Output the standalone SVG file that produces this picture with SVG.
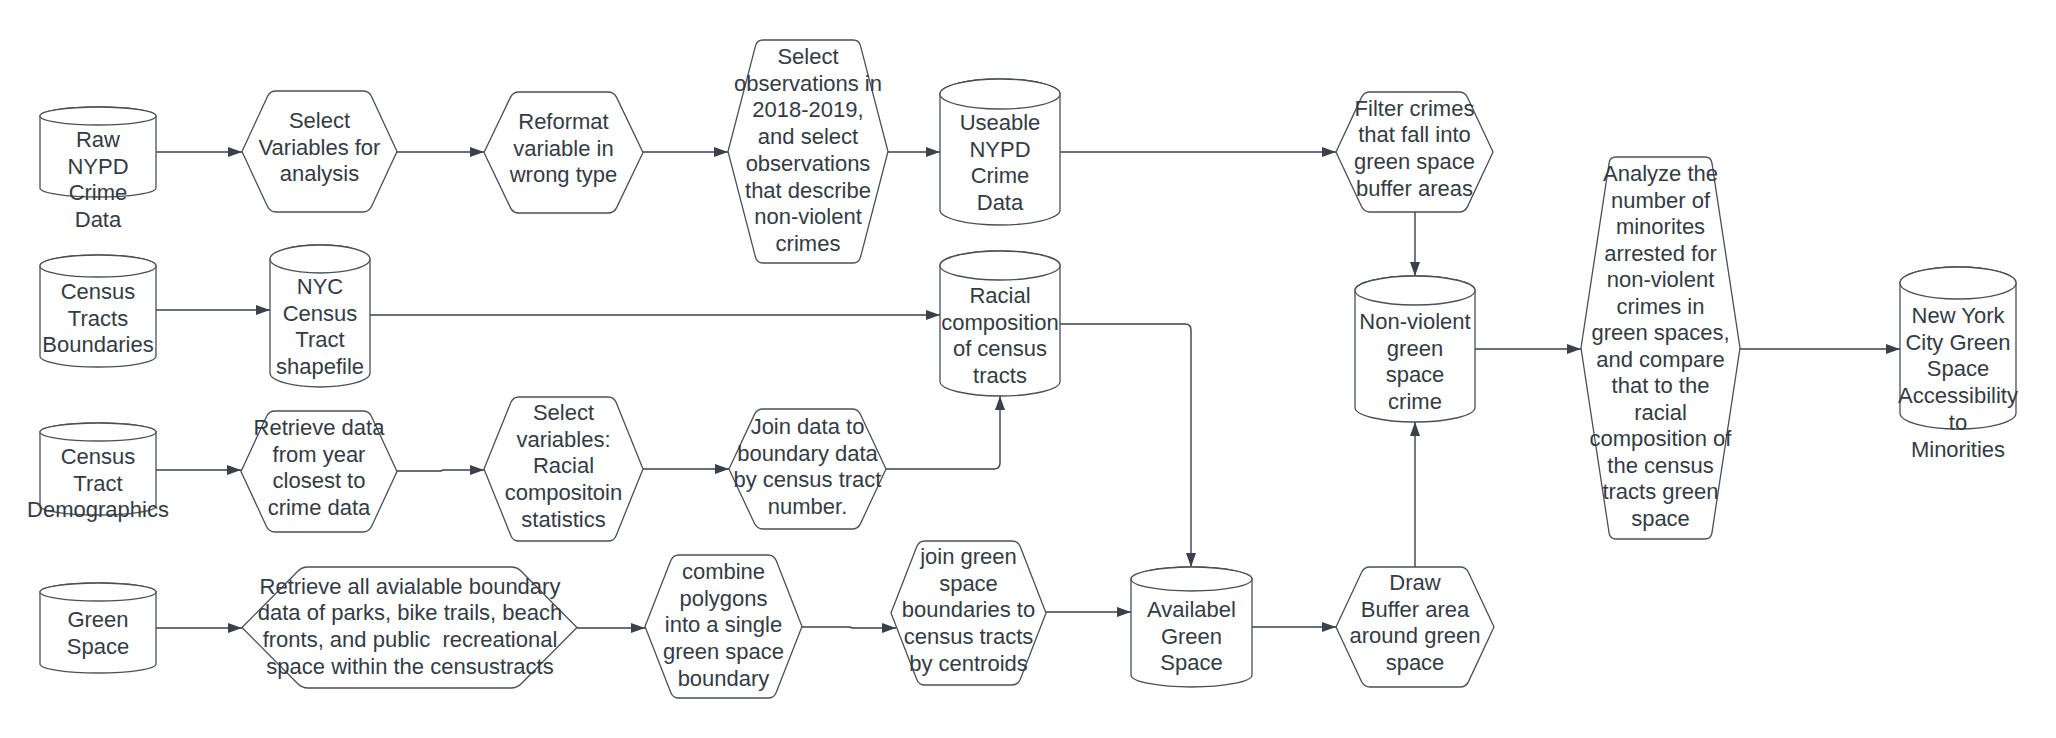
<svg xmlns="http://www.w3.org/2000/svg" width="2056" height="738" viewBox="0 0 2056 738">
<style>
.shape{fill:#ffffff;stroke:#4a5059;stroke-width:1.3}
.lbl{font-family:"Liberation Sans",Arial,sans-serif;font-size:22px;fill:#333b45;text-anchor:middle}
.conn{fill:none;stroke:#3a414a;stroke-width:1.4}
</style>
<defs>
<marker id="arr" markerUnits="userSpaceOnUse" markerWidth="15" markerHeight="11" refX="14" refY="5" orient="auto">
<path d="M0,0 L14,5 L0,10 Z" fill="#3a414a"/>
</marker>
</defs>
<rect width="2056" height="738" fill="#ffffff"/>

<g id="connectors">
<path class="conn" marker-end="url(#arr)" d="M156,152 L242,152"/>
<path class="conn" marker-end="url(#arr)" d="M397,152 L484,152"/>
<path class="conn" marker-end="url(#arr)" d="M643,152 L728,152"/>
<path class="conn" marker-end="url(#arr)" d="M888,152 L940,152"/>
<path class="conn" marker-end="url(#arr)" d="M1060,152 L1336,152"/>
<path class="conn" marker-end="url(#arr)" d="M1415,212 L1415,276"/>
<path class="conn" marker-end="url(#arr)" d="M1475,349 L1581,349"/>
<path class="conn" marker-end="url(#arr)" d="M1740,349 L1900,349"/>
<path class="conn" marker-end="url(#arr)" d="M156,310 L270,310"/>
<path class="conn" marker-end="url(#arr)" d="M370,315 L940,315"/>
<path class="conn" marker-end="url(#arr)" d="M1060,324 L1185,324 Q1191,324 1191,330 L1191,567"/>
<path class="conn" marker-end="url(#arr)" d="M156,470 L241,470"/>
<path class="conn" marker-end="url(#arr)" d="M397,471 L441,471 L443,470 L484,470"/>
<path class="conn" marker-end="url(#arr)" d="M643,469 L729,469"/>
<path class="conn" marker-end="url(#arr)" d="M886,469 L994,469 Q1000,469 1000,463 L1000,396"/>
<path class="conn" marker-end="url(#arr)" d="M156,628 L242,628"/>
<path class="conn" marker-end="url(#arr)" d="M577,628 L645,628"/>
<path class="conn" marker-end="url(#arr)" d="M802,627 L850,627 L852,628 L896,628"/>
<path class="conn" marker-end="url(#arr)" d="M1046,612 L1131,612"/>
<path class="conn" marker-end="url(#arr)" d="M1252,627 L1336,627"/>
<path class="conn" marker-end="url(#arr)" d="M1415,567 L1415,422"/>
</g>

<g id="raw-nypd">
<path class="shape" d="M40,116 L40,188 A58,9 0 0 0 156,188 L156,116 A58,9 0 0 0 40,116 Z"/>
<ellipse class="shape" cx="98" cy="116" rx="58" ry="9"/>
<text class="lbl" x="98" y="147"><tspan x="98">Raw</tspan><tspan x="98" dy="26.7">NYPD</tspan><tspan x="98" dy="26.7">Crime</tspan><tspan x="98" dy="26.7">Data</tspan></text>
</g>

<g id="census-boundaries">
<path class="shape" d="M40,266 L40,356 A58,11 0 0 0 156,356 L156,266 A58,11 0 0 0 40,266 Z"/>
<ellipse class="shape" cx="98" cy="266" rx="58" ry="11"/>
<text class="lbl" x="98" y="299"><tspan x="98">Census</tspan><tspan x="98" dy="26.7">Tracts</tspan><tspan x="98" dy="26.7">Boundaries</tspan></text>
</g>

<g id="nyc-shapefile">
<path class="shape" d="M270,259 L270,373 A50,14 0 0 0 370,373 L370,259 A50,14 0 0 0 270,259 Z"/>
<ellipse class="shape" cx="320" cy="259" rx="50" ry="14"/>
<text class="lbl" x="320" y="294"><tspan x="320">NYC</tspan><tspan x="320" dy="26.7">Census</tspan><tspan x="320" dy="26.7">Tract</tspan><tspan x="320" dy="26.7">shapefile</tspan></text>
</g>

<g id="census-demographics">
<path class="shape" d="M40,432 L40,506 A58,9 0 0 0 156,506 L156,432 A58,9 0 0 0 40,432 Z"/>
<ellipse class="shape" cx="98" cy="432" rx="58" ry="9"/>
<text class="lbl" x="98" y="464"><tspan x="98">Census</tspan><tspan x="98" dy="26.7">Tract</tspan><tspan x="98" dy="26.7">Demographics</tspan></text>
</g>

<g id="green-space">
<path class="shape" d="M40,592 L40,664 A58,9 0 0 0 156,664 L156,592 A58,9 0 0 0 40,592 Z"/>
<ellipse class="shape" cx="98" cy="592" rx="58" ry="9"/>
<text class="lbl" x="98" y="627"><tspan x="98">Green</tspan><tspan x="98" dy="26.7">Space</tspan></text>
</g>

<g id="useable-nypd">
<path class="shape" d="M940,94 L940,210 A60,15 0 0 0 1060,210 L1060,94 A60,15 0 0 0 940,94 Z"/>
<ellipse class="shape" cx="1000" cy="94" rx="60" ry="15"/>
<text class="lbl" x="1000" y="130"><tspan x="1000">Useable</tspan><tspan x="1000" dy="26.7">NYPD</tspan><tspan x="1000" dy="26.7">Crime</tspan><tspan x="1000" dy="26.7">Data</tspan></text>
</g>

<g id="racial-composition">
<path class="shape" d="M940,265.5 L940,381.5 A60,14.5 0 0 0 1060,381.5 L1060,265.5 A60,14.5 0 0 0 940,265.5 Z"/>
<ellipse class="shape" cx="1000" cy="265.5" rx="60" ry="14.5"/>
<text class="lbl" x="1000" y="303"><tspan x="1000">Racial</tspan><tspan x="1000" dy="26.7">composition</tspan><tspan x="1000" dy="26.7">of census</tspan><tspan x="1000" dy="26.7">tracts</tspan></text>
</g>

<g id="available-green">
<path class="shape" d="M1131,579 L1131,675 A60.5,12 0 0 0 1252,675 L1252,579 A60.5,12 0 0 0 1131,579 Z"/>
<ellipse class="shape" cx="1191.5" cy="579" rx="60.5" ry="12"/>
<text class="lbl" x="1191.5" y="617"><tspan x="1191.5">Availabel</tspan><tspan x="1191.5" dy="26.7">Green</tspan><tspan x="1191.5" dy="26.7">Space</tspan></text>
</g>

<g id="nonviolent-crime">
<path class="shape" d="M1355,290.5 L1355,407.5 A60,14.5 0 0 0 1475,407.5 L1475,290.5 A60,14.5 0 0 0 1355,290.5 Z"/>
<ellipse class="shape" cx="1415" cy="290.5" rx="60" ry="14.5"/>
<text class="lbl" x="1415" y="329"><tspan x="1415">Non-violent</tspan><tspan x="1415" dy="26.7">green</tspan><tspan x="1415" dy="26.7">space</tspan><tspan x="1415" dy="26.7">crime</tspan></text>
</g>

<g id="nyc-accessibility">
<path class="shape" d="M1900,283 L1900,413 A58,16 0 0 0 2016,413 L2016,283 A58,16 0 0 0 1900,283 Z"/>
<ellipse class="shape" cx="1958" cy="283" rx="58" ry="16"/>
<text class="lbl" x="1958" y="323"><tspan x="1958">New York</tspan><tspan x="1958" dy="26.7">City Green</tspan><tspan x="1958" dy="26.7">Space</tspan><tspan x="1958" dy="26.7">Accessibility</tspan><tspan x="1958" dy="26.7">to</tspan><tspan x="1958" dy="26.7">Minorities</tspan></text>
</g>

<g id="select-variables">
<path class="shape" d="M242,151.5 L267.5,96.4 Q270,91 276,91 L363,91 Q369,91 371.5,96.4 L397,151.5 L371.5,206.6 Q369,212 363,212 L276,212 Q270,212 267.5,206.6 Z"/>
<text class="lbl" x="319.5" y="128"><tspan x="319.5">Select</tspan><tspan x="319.5" dy="26.7">Variables for</tspan><tspan x="319.5" dy="26.7">analysis</tspan></text>
</g>

<g id="reformat">
<path class="shape" d="M484,152.5 L510.4,97.4 Q513,92 519,92 L608,92 Q614,92 616.6,97.4 L643,152.5 L616.6,207.6 Q614,213 608,213 L519,213 Q513,213 510.4,207.6 Z"/>
<text class="lbl" x="563.5" y="129"><tspan x="563.5">Reformat</tspan><tspan x="563.5" dy="26.7">variable in</tspan><tspan x="563.5" dy="26.7">wrong type</tspan></text>
</g>

<g id="select-observations">
<path class="shape" d="M728,151.5 L755.5,45.8 Q757,40 763,40 L853,40 Q859,40 860.5,45.8 L888,151.5 L860.5,257.2 Q859,263 853,263 L763,263 Q757,263 755.5,257.2 Z"/>
<text class="lbl" x="808" y="64"><tspan x="808">Select</tspan><tspan x="808" dy="26.7">observations in</tspan><tspan x="808" dy="26.7">2018-2019,</tspan><tspan x="808" dy="26.7">and select</tspan><tspan x="808" dy="26.7">observations</tspan><tspan x="808" dy="26.7">that describe</tspan><tspan x="808" dy="26.7">non-violent</tspan><tspan x="808" dy="26.7">crimes</tspan></text>
</g>

<g id="filter-crimes">
<path class="shape" d="M1336,152 L1361.5,97.4 Q1364,92 1370,92 L1459,92 Q1465,92 1467.5,97.4 L1493,152 L1467.5,206.6 Q1465,212 1459,212 L1370,212 Q1364,212 1361.5,206.6 Z"/>
<text class="lbl" x="1414.5" y="115.5"><tspan x="1414.5">Filter crimes</tspan><tspan x="1414.5" dy="26.7">that fall into</tspan><tspan x="1414.5" dy="26.7">green space</tspan><tspan x="1414.5" dy="26.7">buffer areas</tspan></text>
</g>

<g id="analyze">
<path class="shape" d="M1581,348 L1609.1,162.9 Q1610,157 1616,157 L1705,157 Q1711,157 1711.9,162.9 L1740,348 L1711.9,533.1 Q1711,539 1705,539 L1616,539 Q1610,539 1609.1,533.1 Z"/>
<text class="lbl" x="1660.5" y="181"><tspan x="1660.5">Analyze the</tspan><tspan x="1660.5" dy="26.5">number of</tspan><tspan x="1660.5" dy="26.5">minorites</tspan><tspan x="1660.5" dy="26.5">arrested for</tspan><tspan x="1660.5" dy="26.5">non-violent</tspan><tspan x="1660.5" dy="26.5">crimes in</tspan><tspan x="1660.5" dy="26.5">green spaces,</tspan><tspan x="1660.5" dy="26.5">and compare</tspan><tspan x="1660.5" dy="26.5">that to the</tspan><tspan x="1660.5" dy="26.5">racial</tspan><tspan x="1660.5" dy="26.5">composition of</tspan><tspan x="1660.5" dy="26.5">the census</tspan><tspan x="1660.5" dy="26.5">tracts green</tspan><tspan x="1660.5" dy="26.5">space</tspan></text>
</g>

<g id="retrieve-year">
<path class="shape" d="M241,471.5 L266.5,416.4 Q269,411 275,411 L363,411 Q369,411 371.5,416.4 L397,471.5 L371.5,526.6 Q369,532 363,532 L275,532 Q269,532 266.5,526.6 Z"/>
<text class="lbl" x="319" y="435"><tspan x="319">Retrieve data</tspan><tspan x="319" dy="26.7">from year</tspan><tspan x="319" dy="26.7">closest to</tspan><tspan x="319" dy="26.7">crime data</tspan></text>
</g>

<g id="select-racial">
<path class="shape" d="M484,469 L510.8,402.6 Q513,397 519,397 L608,397 Q614,397 616.2,402.6 L643,469 L616.2,535.4 Q614,541 608,541 L519,541 Q513,541 510.8,535.4 Z"/>
<text class="lbl" x="563.5" y="420"><tspan x="563.5">Select</tspan><tspan x="563.5" dy="26.7">variables:</tspan><tspan x="563.5" dy="26.7">Racial</tspan><tspan x="563.5" dy="26.7">compositoin</tspan><tspan x="563.5" dy="26.7">statistics</tspan></text>
</g>

<g id="join-boundary">
<path class="shape" d="M729,469 L754.5,414.4 Q757,409 763,409 L852,409 Q858,409 860.5,414.4 L886,469 L860.5,523.6 Q858,529 852,529 L763,529 Q757,529 754.5,523.6 Z"/>
<text class="lbl" x="807.5" y="434"><tspan x="807.5">Join data to</tspan><tspan x="807.5" dy="26.7">boundary data</tspan><tspan x="807.5" dy="26.7">by census tract</tspan><tspan x="807.5" dy="26.7">number.</tspan></text>
</g>

<g id="retrieve-boundary">
<path class="shape" d="M242,627.5 L297.8,571.3 Q302,567 308,567 L511,567 Q517,567 521.2,571.3 L577,627.5 L521.2,683.7 Q517,688 511,688 L308,688 Q302,688 297.8,683.7 Z"/>
<text class="lbl" x="410" y="593.5" xml:space="preserve" style="white-space:pre"><tspan x="410">Retrieve all avialable boundary</tspan><tspan x="410" dy="26.7">data of parks, bike trails, beach</tspan><tspan x="410" dy="26.7">fronts, and public  recreational</tspan><tspan x="410" dy="26.7">space within the censustracts</tspan></text>
</g>

<g id="combine-polygons">
<path class="shape" d="M645,626.5 L670.8,560.6 Q673,555 679,555 L768,555 Q774,555 776.2,560.6 L802,626.5 L776.2,692.4 Q774,698 768,698 L679,698 Q673,698 670.8,692.4 Z"/>
<text class="lbl" x="723.5" y="579"><tspan x="723.5">combine</tspan><tspan x="723.5" dy="26.7">polygons</tspan><tspan x="723.5" dy="26.7">into a single</tspan><tspan x="723.5" dy="26.7">green space</tspan><tspan x="723.5" dy="26.7">boundary</tspan></text>
</g>

<g id="join-green">
<path class="shape" d="M891,613 L916.8,546.6 Q919,541 925,541 L1012,541 Q1018,541 1020.2,546.6 L1046,613 L1020.2,679.4 Q1018,685 1012,685 L925,685 Q919,685 916.8,679.4 Z"/>
<text class="lbl" x="968.5" y="564"><tspan x="968.5">join green</tspan><tspan x="968.5" dy="26.7">space</tspan><tspan x="968.5" dy="26.7">boundaries to</tspan><tspan x="968.5" dy="26.7">census tracts</tspan><tspan x="968.5" dy="26.7">by centroids</tspan></text>
</g>

<g id="draw-buffer">
<path class="shape" d="M1336,627 L1361.5,572.4 Q1364,567 1370,567 L1460,567 Q1466,567 1468.5,572.4 L1494,627 L1468.5,681.6 Q1466,687 1460,687 L1370,687 Q1364,687 1361.5,681.6 Z"/>
<text class="lbl" x="1415" y="590"><tspan x="1415">Draw</tspan><tspan x="1415" dy="26.7">Buffer area</tspan><tspan x="1415" dy="26.7">around green</tspan><tspan x="1415" dy="26.7">space</tspan></text>
</g>
</svg>
